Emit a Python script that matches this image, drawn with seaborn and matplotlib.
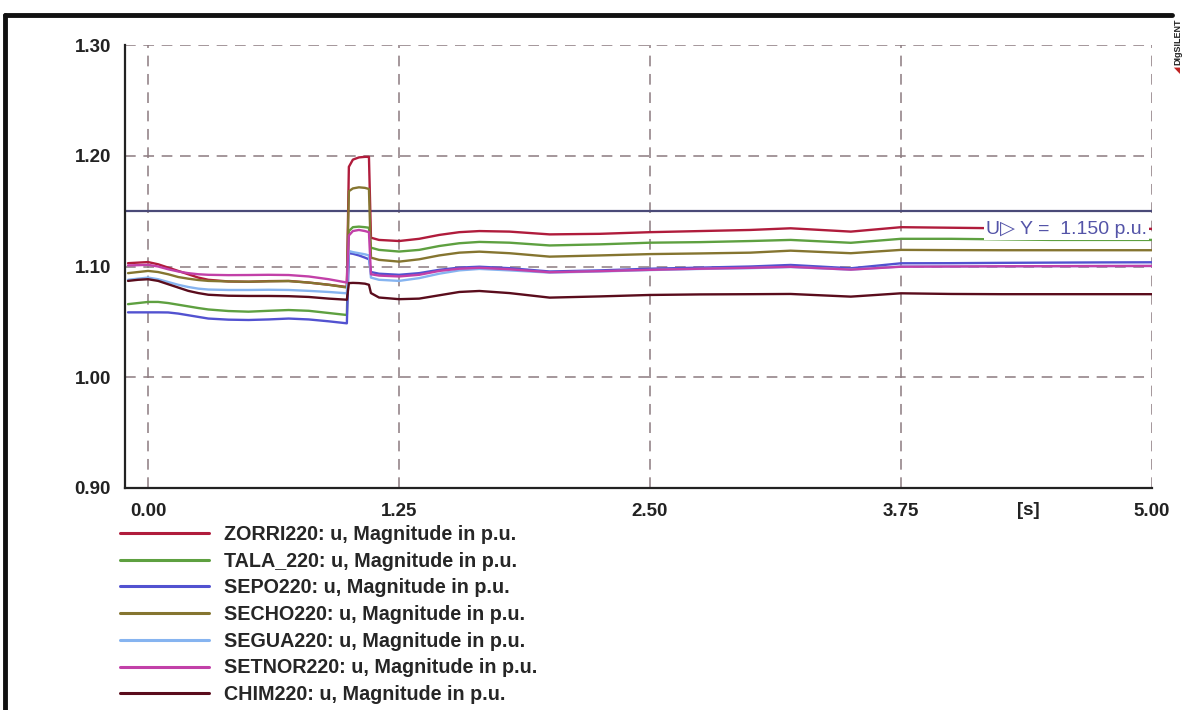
import numpy as np
import pandas as pd
import matplotlib
matplotlib.use("Agg")
import matplotlib.pyplot as plt
from matplotlib.lines import Line2D
import seaborn as sns

# ---------------- data ----------------
time_s = [-0.1, -0.05, 0.0, 0.05, 0.1, 0.15, 0.2, 0.25, 0.3, 0.4, 0.5, 0.6, 0.7, 0.8, 0.9, 0.99,
          1.0, 1.02, 1.05, 1.08, 1.10,
          1.11, 1.15, 1.25, 1.35, 1.45, 1.55, 1.65, 1.8, 2.0, 2.25, 2.5, 2.75, 3.0, 3.2, 3.5,
          3.75, 4.0, 4.25, 4.5, 4.75, 5.0]

zorri = [1.1030, 1.1035, 1.1040, 1.1020, 1.0990, 1.0960, 1.0930, 1.0900, 1.0880, 1.0865, 1.0862, 1.0868, 1.0870, 1.0855, 1.0835, 1.0815,
         1.1900, 1.1965, 1.1985, 1.1990, 1.1990,
         1.1260, 1.1240, 1.1230, 1.1250, 1.1285, 1.1310, 1.1320, 1.1315, 1.1290, 1.1295, 1.1310, 1.1320, 1.1330, 1.1345, 1.1315,
         1.1355, 1.1350, 1.1345, 1.1340, 1.1340, 1.1340]
tala = [1.0660, 1.0670, 1.0680, 1.0680, 1.0670, 1.0655, 1.0640, 1.0625, 1.0612, 1.0598, 1.0592, 1.0600, 1.0607, 1.0600, 1.0580, 1.0562,
        1.1320, 1.1355, 1.1360, 1.1355, 1.1350,
        1.1170, 1.1150, 1.1135, 1.1150, 1.1185, 1.1210, 1.1222, 1.1215, 1.1190, 1.1200, 1.1215, 1.1220, 1.1230, 1.1240, 1.1214,
        1.1250, 1.1250, 1.1245, 1.1240, 1.1240, 1.1240]
sepo = [1.0586, 1.0586, 1.0586, 1.0586, 1.0585, 1.0575, 1.0560, 1.0545, 1.0530, 1.0520, 1.0517, 1.0522, 1.0530, 1.0522, 1.0505, 1.0487,
        1.1120, 1.1115, 1.1100, 1.1080, 1.1065,
        1.0950, 1.0935, 1.0925, 1.0940, 1.0970, 1.0990, 1.0998, 1.0985, 1.0955, 1.0965, 1.0980, 1.0990, 1.1000, 1.1014, 1.0984,
        1.1029, 1.1030, 1.1033, 1.1035, 1.1037, 1.1038]
secho = [1.0940, 1.0950, 1.0960, 1.0950, 1.0930, 1.0905, 1.0890, 1.0878, 1.0870, 1.0865, 1.0863, 1.0866, 1.0868, 1.0855, 1.0835, 1.0810,
         1.1680, 1.1705, 1.1715, 1.1710, 1.1700,
         1.1080, 1.1060, 1.1044, 1.1065, 1.1100, 1.1125, 1.1134, 1.1120, 1.1089, 1.1100, 1.1112, 1.1118, 1.1125, 1.1143, 1.1120,
         1.1150, 1.1148, 1.1147, 1.1147, 1.1147, 1.1147]
segua = [1.0880, 1.0890, 1.0900, 1.0885, 1.0860, 1.0835, 1.0815, 1.0800, 1.0792, 1.0788, 1.0788, 1.0790, 1.0788, 1.0780, 1.0770, 1.0758,
         1.1140, 1.1130, 1.1120, 1.1110, 1.1100,
         1.0900, 1.0880, 1.0870, 1.0895, 1.0935, 1.0965, 1.0978, 1.0965, 1.0945, 1.0955, 1.0968, 1.0978, 1.0985, 1.0995, 1.0972,
         1.1000, 1.1000, 1.1002, 1.1003, 1.1004, 1.1005]
setnor = [1.1010, 1.1012, 1.1015, 1.1000, 1.0975, 1.0955, 1.0940, 1.0930, 1.0925, 1.0922, 1.0923, 1.0925, 1.0923, 1.0910, 1.0885, 1.0855,
          1.1280, 1.1320, 1.1330, 1.1320, 1.1310,
          1.0930, 1.0918, 1.0910, 1.0925, 1.0960, 1.0980, 1.0988, 1.0975, 1.0948, 1.0958, 1.0970, 1.0980, 1.0988, 1.0997, 1.0972,
          1.0998, 1.1000, 1.1002, 1.1003, 1.1004, 1.1005]
chim = [1.0870, 1.0880, 1.0885, 1.0870, 1.0840, 1.0810, 1.0780, 1.0760, 1.0745, 1.0736, 1.0734, 1.0734, 1.0732, 1.0725, 1.0710, 1.0700,
        1.0850, 1.0852, 1.0850, 1.0845, 1.0835,
        1.0760, 1.0720, 1.0705, 1.0710, 1.0740, 1.0770, 1.0779, 1.0760, 1.0719, 1.0730, 1.0743, 1.0748, 1.0750, 1.0752, 1.0728,
        1.0758, 1.0752, 1.0750, 1.0750, 1.0750, 1.0750]

series_names = ["ZORRI220: u, Magnitude in p.u.",
                "TALA_220: u, Magnitude in p.u.",
                "SEPO220: u, Magnitude in p.u.",
                "SECHO220: u, Magnitude in p.u.",
                "SEGUA220: u, Magnitude in p.u.",
                "SETNOR220: u, Magnitude in p.u.",
                "CHIM220: u, Magnitude in p.u."]
series_values = [zorri, tala, sepo, secho, segua, setnor, chim]
series_colors = ["#b01c3c", "#5ea040", "#5252d0", "#857530", "#86b4f0", "#c240a8", "#5a0c1c"]

threshold = 1.150
threshold_label = "U\u25B7 Y =  1.150 p.u."
x_ticks = [0.0, 1.25, 2.5, 3.75, 5.0]
x_tick_labels = ["0.00", "1.25", "2.50", "3.75", "5.00"]
y_ticks = [0.90, 1.00, 1.10, 1.20, 1.30]
y_tick_labels = ["0.90", "1.00", "1.10", "1.20", "1.30"]

# ---------------- plotting ----------------
sns.set_theme(style="white")
plt.rcParams["font.family"] = ["Liberation Sans", "DejaVu Sans"]

W, H = 1184, 710
fig = plt.figure(figsize=(W / 100, H / 100), dpi=100)
fig.patch.set_facecolor("white")

ax_l, ax_r, ax_t, ax_b = 125, 1152, 45, 488
ax = fig.add_axes([ax_l / W, 1 - ax_b / H, (ax_r - ax_l) / W, (ax_b - ax_t) / H])

frames = []
for name, vals in zip(series_names, series_values):
    frames.append(pd.DataFrame({"t": time_s, "u": vals, "series": name}))
df = pd.concat(frames, ignore_index=True)

palette = dict(zip(series_names, series_colors))

# grid (dashed)
grid_kw = dict(color="#8c7a80", lw=1.1, ls=(0, (7, 5)), zorder=0.5)
for xv in x_ticks:
    ax.axvline(xv, **grid_kw)
for yv in y_ticks[1:]:
    ax.axhline(yv, **grid_kw)

# threshold line
ax.axhline(threshold, color="#4a4a78", lw=1.6, zorder=1)

sns.lineplot(data=df, x="t", y="u", hue="series", palette=palette,
             hue_order=series_names, sort=False, estimator=None,
             lw=1.7, legend=False, ax=ax, zorder=2)

ax.set_xlim(-0.115, 5.0)
ax.set_ylim(0.90, 1.30)
ax.set_xlabel("")
ax.set_ylabel("")

for s in ["top", "right"]:
    ax.spines[s].set_visible(False)
for s in ["left", "bottom"]:
    ax.spines[s].set_color("#222222")
    ax.spines[s].set_linewidth(1.6)

ax.set_xticks(x_ticks)
ax.set_xticklabels(x_tick_labels, fontsize=13.5, fontweight="bold", color="#222222")
ax.set_yticks(y_ticks)
ax.set_yticklabels(y_tick_labels, fontsize=13.5, fontweight="bold", color="#222222")
ax.set_xticks([0.625, 1.875, 3.125, 4.375], minor=True)
ax.set_yticks([0.95, 1.05, 1.15, 1.25], minor=True)
ax.tick_params(axis="x", which="major", direction="in", length=0, pad=11)
ax.tick_params(axis="x", which="minor", direction="in", length=6, width=1, color="#333333")
ax.tick_params(axis="y", which="major", direction="inout", length=8, width=1, color="#333333", pad=6)
ax.tick_params(axis="y", which="minor", direction="out", length=3, width=1, color="#333333")

# unit label
ax.text(4.385, -0.032, "[s]", transform=ax.get_xaxis_transform(), ha="center", va="top",
        fontsize=13.5, fontweight="bold", color="#222222")

# threshold label
ax.text(4.975, 1.1335, threshold_label, ha="right", va="center", fontsize=14,
        color="#5454a8", zorder=5,
        bbox=dict(boxstyle="square,pad=0.1", facecolor="white", edgecolor="none"))

# legend
handles = [Line2D([0], [0], color=c, lw=2.2) for c in series_colors]
fig.legend(handles, series_names, loc="upper left",
           bbox_to_anchor=(120 / W, 1 - 525 / H), frameon=False,
           handlelength=4.5, handletextpad=0.75,
           labelspacing=0.39, borderpad=0, borderaxespad=0,
           prop=dict(weight="bold", size=14.2))

# page frame
fig.add_artist(Line2D([5 / W, 1172 / W], [1 - 15 / H, 1 - 15 / H], color="#111111", lw=3.5))
fig.add_artist(Line2D([5 / W, 5 / W], [1 - 15 / H, 0], color="#111111", lw=3.5))

# branding
fig.text(1178 / W, 1 - 42 / H, "DIgSILENT", rotation=90, ha="center", va="center",
         fontsize=6.5, fontweight="bold", color="#222222")
fig.text(1178 / W, 1 - 70 / H, "\u25E2", rotation=90, ha="center", va="center",
         fontsize=6, color="#c02020")

fig.savefig("out.png", dpi=100, facecolor="white")
